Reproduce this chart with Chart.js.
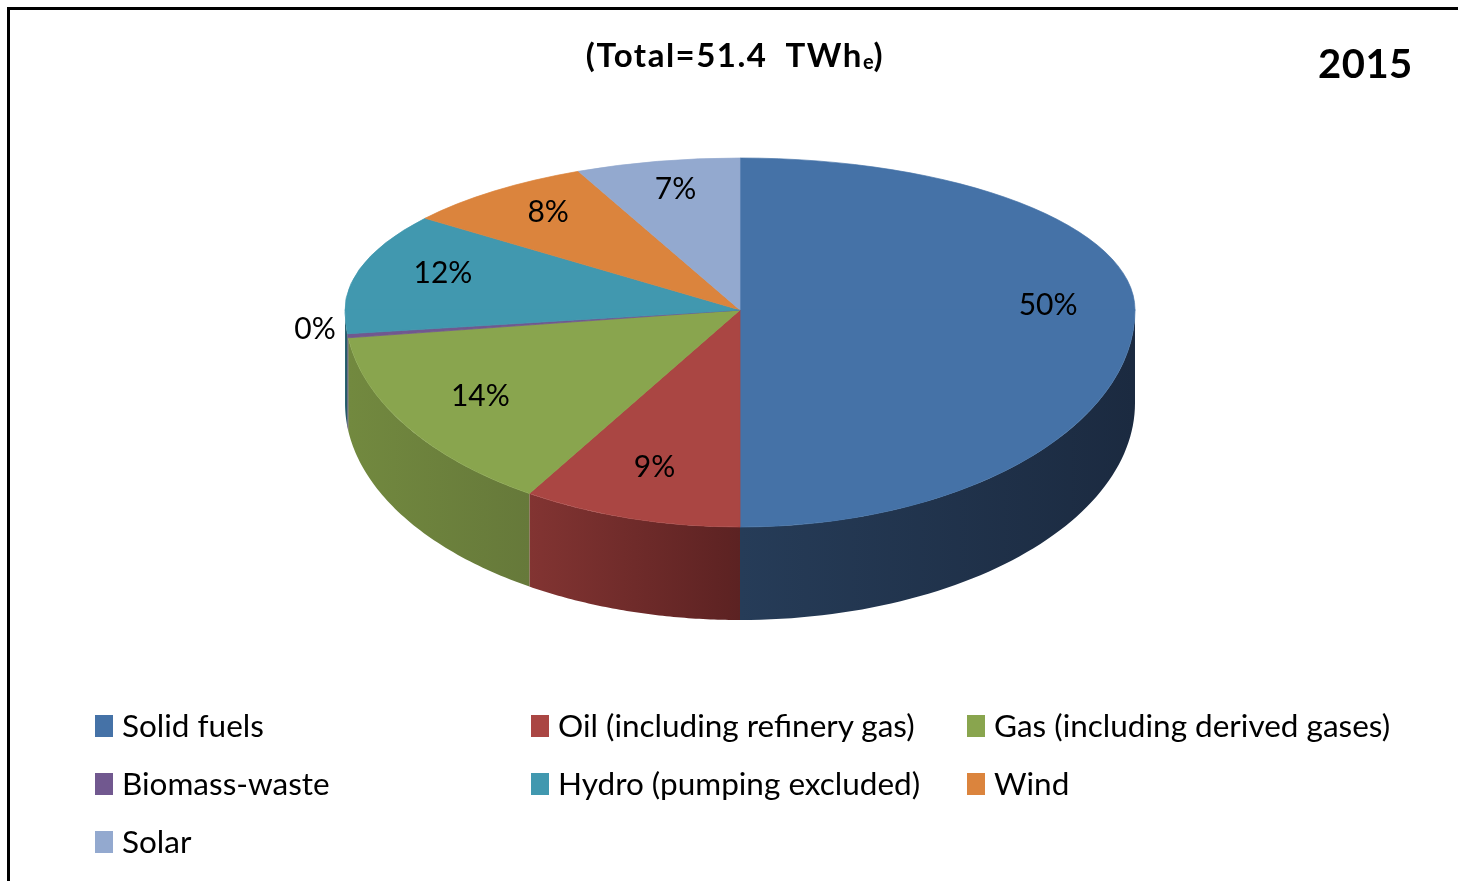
<!DOCTYPE html>
<html>
<head>
<meta charset="utf-8">
<script src="https://cdn.jsdelivr.net/npm/chart.js@4/dist/chart.umd.min.js"></script>
<style>
  body { margin: 0; background: #fff; }
  #wrap { position: relative; width: 1458px; height: 881px; overflow: hidden; font-family: Lato, sans-serif; }
  #pie { position: absolute; left: 0; top: 0; }
  .frameTop { position: absolute; left: 7px; top: 7px; width: 1451px; height: 3px; background: #000; }
  .frameLeft { position: absolute; left: 7px; top: 7px; width: 3px; height: 874px; background: #000; }
  #title { position: absolute; left: 435px; width: 600px; top: 38px; text-align: center; font-size: 33px; font-weight: bold; line-height: 1; letter-spacing: 1.5px; }
  #title sub { font-size: 20px; vertical-align: -2px; letter-spacing: 0; }
  #year { position: absolute; left: 1318px; top: 43px; font-size: 40px; font-weight: bold; line-height: 1; letter-spacing: 0.5px; }
  #legend { position: absolute; left: 95px; top: 711px; display: grid; grid-template-columns: 436px 436px auto; grid-auto-rows: 30px; row-gap: 28px; font-size: 31.5px; line-height: 1; }
  .item { display: flex; align-items: center; white-space: nowrap; }
  .box { width: 18px; height: 22px; margin-right: 9px; flex: none; }
</style>
</head>
<body>
<div id="wrap">
  <canvas id="pie" width="1458" height="881"></canvas>
  <div class="frameTop"></div>
  <div class="frameLeft"></div>
  <div id="title">(Total=51.4&nbsp; TWh<sub>e</sub>)</div>
  <div id="year">2015</div>
  <div id="legend"></div>
</div>
<script>
// --- DATA ---
const categories = ["Solid fuels", "Oil (including refinery gas)", "Gas (including derived gases)", "Biomass-waste", "Hydro (pumping excluded)", "Wind", "Solar"];
const shareTWh = [25.7, 4.6, 7.2, 0.15, 6.2, 4.1, 3.45];

// --- STYLE ---
const sliceColors = ["#4572A7", "#AA4643", "#89A54E", "#71588F", "#4198AF", "#DB843D", "#93A9CF"];
const sideColors = [["#263C58", "#1B2A40"], ["#823432", "#5C2222"], ["#72893F", "#66793A"], ["#4D3C63", "#3E304F"], ["#2C6878", "#22505C"], ["#96592A", "#7A4822"], ["#65748F", "#536075"]];

// pie geometry on screen (tilted look)
const VX = 740, VY = 310, RX = 395, RY_BACK = 152, RY_FRONT = 217, DEPTH = 93;

const total = shareTWh.reduce((a, b) => a + b, 0);

// legend
const legendEl = document.getElementById("legend");
categories.forEach((name, i) => {
    const item = document.createElement("div");
    item.className = "item";
    item.innerHTML = `<span class="box" style="background:${sliceColors[i]}"></span><span>${name}</span>`;
    legendEl.appendChild(item);
});

// draws the pie squashed, with a side wall for the front half
const tiltPlugin = {
    id: "tilt",
    beforeDatasetsDraw(chart) {
        const ctx = chart.ctx;
        const arcs = chart.getDatasetMeta(0).data;
        const s = RX / arcs[0].outerRadius;

        // side walls
        arcs.forEach((arc, i) => {
            const a1 = Math.max(arc.startAngle, 0);
            const a2 = Math.min(arc.endAngle, Math.PI);
            if (a2 <= a1) return;
            const steps = 60;
            ctx.beginPath();
            for (let k = 0; k <= steps; k++) {
                const a = a1 + (a2 - a1) * k / steps;
                const x = VX + RX * Math.cos(a), y = VY + RY_FRONT * Math.sin(a);
                k === 0 ? ctx.moveTo(x, y) : ctx.lineTo(x, y);
            }
            for (let k = steps; k >= 0; k--) {
                const a = a1 + (a2 - a1) * k / steps;
                ctx.lineTo(VX + RX * Math.cos(a), VY + RY_FRONT * Math.sin(a) + DEPTH);
            }
            ctx.closePath();
            const xl = VX + RX * Math.cos(a2), xr = VX + RX * Math.cos(a1);
            const g = ctx.createLinearGradient(xl, 0, xr, 0);
            g.addColorStop(0, sideColors[i][0]);
            g.addColorStop(1, sideColors[i][1]);
            ctx.fillStyle = g;
            ctx.fill();
        });

        // top face: back half and front half with different squash
        const halves = [[0, VY + 0.5, RY_BACK], [VY - 0.5, chart.height, RY_FRONT]];
        halves.forEach(([y0, y1, ry]) => {
            ctx.save();
            ctx.beginPath();
            ctx.rect(0, y0, chart.width, y1 - y0);
            ctx.clip();
            ctx.translate(VX, VY);
            ctx.scale(s, s * ry / RX);
            ctx.translate(-arcs[0].x, -arcs[0].y);
            arcs.forEach(arc => arc.draw(ctx));
            ctx.restore();
        });
        return false;
    },
    afterDraw(chart) {
        const ctx = chart.ctx;
        const arcs = chart.getDatasetMeta(0).data;
        ctx.save();
        ctx.font = "30px Lato";
        ctx.fillStyle = "#000";
        ctx.textBaseline = "middle";
        arcs.forEach((arc, i) => {
            const pct = Math.round(shareTWh[i] / total * 100);
            const mid = (arc.startAngle + arc.endAngle) / 2;
            const ry = Math.sin(mid) > 0 ? RY_FRONT : RY_BACK;
            if (shareTWh[i] / total < 0.01) {
                ctx.textAlign = "right";
                ctx.fillText(pct + "%", VX + RX * Math.cos(mid) - 12, VY + ry * Math.sin(mid) - 6);
            } else {
                const f = 0.78;
                ctx.textAlign = "center";
                ctx.fillText(pct + "%", VX + RX * f * Math.cos(mid), VY + ry * f * Math.sin(mid) - 5);
            }
        });
        ctx.restore();
    }
};

new Chart(document.getElementById("pie"), {
    type: "pie",
    data: {
        labels: categories,
        datasets: [{
            data: shareTWh,
            backgroundColor: sliceColors,
            borderColor: sliceColors,
            borderWidth: 1
        }]
    },
    options: {
        responsive: false,
        animation: false,
        layout: { padding: 40 },
        plugins: {
            legend: { display: false },
            tooltip: { enabled: false }
        }
    },
    plugins: [tiltPlugin]
});
</script>
</body>
</html>
